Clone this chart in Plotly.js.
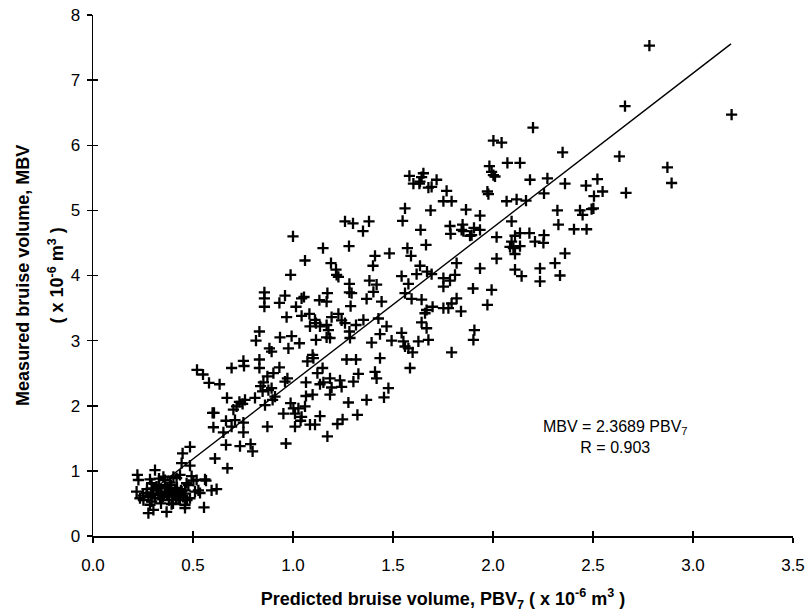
<!DOCTYPE html>
<html>
<head>
<meta charset="utf-8">
<script src="https://cdn.plot.ly/plotly-3.0.1.min.js"></script>
<style>html,body{margin:0;padding:0;background:#fff;}#chart{width:809px;height:613px;}</style>
</head>
<body>
<div id="chart"></div>
<script>
// Lower-left cluster
var pbvLow = [0.222,0.227,0.218,0.235,0.252,0.31,0.285,0.293,0.268,0.277,0.302,0.318,0.293,0.285,0.277,0.302,0.327,0.335,0.352,0.36,0.36,0.372,0.368,0.385,0.393,0.402,0.41,0.415,0.427,0.418,0.435,0.393,0.443,0.452,0.435,0.46,0.468,0.477,0.485,0.502,0.518,0.51,0.527,0.46,0.448,0.485,0.485,0.493,0.443,
  0.25,0.27,0.3,0.31,0.32,0.33,0.34,0.35,0.36,0.37,0.38,0.39,0.4,0.41,0.42,0.43,0.44,0.45,0.46,0.38,0.34,0.29,0.33,0.4,0.47];
var mbvLow = [0.94,0.86,0.68,0.58,0.55,1.01,0.87,0.81,0.66,0.6,0.73,0.76,0.53,0.48,0.35,0.4,0.63,0.58,0.91,0.86,0.68,0.73,0.37,0.82,0.67,0.91,0.71,0.59,0.56,0.89,0.94,0.49,0.68,0.65,0.56,0.48,0.81,0.78,0.58,0.85,0.86,0.68,0.7,0.43,1.27,1.37,1.08,0.92,1.12,
  0.62,0.72,0.65,0.58,0.7,0.78,0.66,0.6,0.75,0.64,0.55,0.78,0.62,0.66,0.74,0.62,0.7,0.6,0.7,0.68,0.5,0.62,0.88,0.5,0.55];

// Rising part 0.5 - 0.7
var pbvRise = [0.598,0.605,0.602,0.665,0.652,0.665,0.61,0.672,0.565,0.56,0.593,0.618,0.555,0.535,0.52,0.55,0.58,0.633,0.67];
var mbvRise = [1.89,1.89,1.67,1.77,1.59,1.4,1.19,1.04,0.85,0.87,0.7,0.72,0.44,0.66,2.55,2.48,2.35,2.33,2.12];

// Middle band, upper half
var pbvMidUp = [1.06,1.19,1.215,1.218,1.227,1.4,1.635,1.67,1.693,1.818,
  0.988,1.282,1.382,1.418,1.543,1.577,1.618,1.752,1.785,1.81,
  1.752,1.9,0.857,0.857,0.857,0.96,0.932,1.043,1.055,1.015,
  1.132,1.168,1.172,1.282,1.293,1.288,1.368,1.402,1.443,1.56,
  1.593,1.643,1.698,1.668,1.66,1.752,1.777,1.793,1.818,1.84,
  1.043,1.082,0.968,1.11,1.115,1.168,1.193,1.227,1.243,1.26,
  1.315,1.352,1.427,1.468,1.543,1.643,1.668,1.907,1.902,1.085,
  1.135,1.177,1.185,1.168,1.282,1.285,0.832,0.815,0.935,0.993,
  1.032,1.115,0.882,0.893,0.977,1.393,1.435,1.493,1.552,1.56,
  1.577,1.598,1.627,1.677,1.793];
var mbvMidUp = [4.23,4.19,4.09,4.01,3.98,4.15,4.15,4.06,4.02,4.19,
  4.01,3.87,3.92,3.86,3.99,3.87,4.02,3.96,3.92,4.01,
  3.83,3.8,3.74,3.65,3.52,3.69,3.58,3.65,3.67,3.52,
  3.62,3.6,3.73,3.74,3.73,3.53,3.64,3.75,3.6,3.73,
  3.64,3.63,3.52,3.47,3.42,3.5,3.5,3.57,3.65,3.45,
  3.38,3.41,3.36,3.32,3.27,3.24,3.36,3.41,3.31,3.27,
  3.24,3.32,3.34,3.22,3.12,3.28,3.19,3.16,3.01,3.22,
  3.22,3.16,3.04,3.05,3.14,3.04,3.14,3.0,3.05,3.07,
  2.96,3.01,2.88,2.83,2.88,2.97,3.1,3.0,2.99,2.91,
  2.88,2.82,2.99,3.01,2.82];

// Middle band, lower half
var pbvMidLow = [0.693,0.752,0.755,0.832,0.832,0.932,0.902,0.872,0.852,0.838,
  1.072,1.098,1.102,1.148,1.122,1.268,1.315,1.435,1.585,0.972,
  0.96,1.065,1.135,1.152,1.185,1.193,1.185,1.235,1.243,1.302,
  1.327,1.41,1.418,1.477,1.455,1.368,1.277,0.732,0.748,0.76,
  0.702,0.718,0.81,0.86,0.898,0.91,0.848,0.877,0.893,0.952,
  0.988,1.002,1.01,1.027,1.06,1.038,1.043,1.065,1.098,1.135,
  1.085,1.11,1.222,1.248,1.322,1.172,1.01,0.872,0.71,0.752,
  0.693,0.752,0.735,0.788,0.798,0.965];
var mbvMidLow = [2.58,2.69,2.61,2.71,2.58,2.59,2.5,2.45,2.36,2.3,
  2.68,2.78,2.73,2.58,2.5,2.71,2.71,2.73,2.58,2.42,
  2.37,2.36,2.33,2.36,2.42,2.28,2.17,2.39,2.29,2.37,
  2.49,2.52,2.42,2.27,2.13,2.09,2.05,2.06,2.03,2.09,
  1.94,1.99,2.12,2.01,2.09,2.14,2.22,2.24,2.27,1.88,
  2.04,1.96,1.88,1.96,1.99,1.77,1.83,2.15,2.17,1.84,
  1.71,1.71,1.72,1.79,1.86,1.53,1.68,1.68,1.78,1.74,
  1.68,1.59,1.38,1.41,1.3,1.42];

// Upper-right band
var pbvHigh = [2.002,2.043,2.2,2.348,2.072,2.135,1.982,1.993,2.002,2.01,
  1.582,1.652,1.643,1.635,1.602,1.632,1.677,1.693,1.718,1.768,
  1.752,1.793,1.56,1.688,1.548,1.865,1.972,1.977,2.185,2.272,
  2.36,2.068,2.118,2.165,2.255,1.935,2.093,1.638,1.785,1.788,
  1.848,1.843,1.852,1.885,1.893,1.905,1.935,2.018,2.11,2.135,
  2.182,2.093,2.085,2.102,2.135,2.11,2.21,2.252,2.255,2.322,
  2.327,2.405,2.468,2.435,2.448,2.493,2.502,2.505,2.548,2.465,
  2.522,2.632,2.665,2.36,2.31,2.335,2.235,2.235,2.11,2.143,
  2.018,1.935,1.993,1.972,1.665,1.572,1.59,1.482];
var mbvHigh = [6.07,6.04,6.27,5.89,5.73,5.73,5.68,5.59,5.54,5.52,
  5.53,5.57,5.51,5.44,5.41,5.41,5.35,5.36,5.47,5.3,
  5.14,5.14,5.03,5.0,4.84,5.01,5.29,5.25,5.47,5.49,
  5.41,5.14,5.17,5.15,5.26,4.92,4.83,4.7,4.76,4.64,
  4.78,4.7,4.68,4.61,4.62,4.73,4.7,4.59,4.61,4.65,
  4.65,4.52,4.44,4.42,4.45,4.33,4.52,4.5,4.62,5.0,
  4.78,4.71,4.71,5.0,4.93,5.02,5.03,5.22,5.29,5.38,
  5.48,5.83,5.27,4.34,4.19,4.0,4.11,3.91,4.09,3.99,
  4.26,4.11,3.78,3.55,4.47,4.42,4.3,4.34];

// Outliers and remaining points
var pbvOther = [2.782,2.66,3.193,2.872,2.893,1.0,1.15,1.26,1.3,1.38,1.35,1.28,1.41];
var mbvOther = [7.53,6.6,6.47,5.66,5.42,4.6,4.42,4.83,4.8,4.83,4.68,4.45,4.3];

// Regression line MBV = 2.3689 PBV7
var fitSlope = 2.3689;
var fitX = [0.25, 3.19];
var fitY = fitX.map(function(v){ return fitSlope * v; });

var xTickVals = [0,0.5,1,1.5,2,2.5,3,3.5];
var yTickVals = [0,1,2,3,4,5,6,7,8];

var yTitleLine1 = 'Measured bruise volume, MBV';
var yTitleLine2 = '( x 10<sup>-6</sup> m<sup>3</sup> )';
var xTitle = 'Predicted bruise volume, PBV<sub>7</sub> ( x 10<sup>-6</sup> m<sup>3</sup> )';

var pbv = [].concat(pbvLow, pbvRise, pbvMidUp, pbvMidLow, pbvHigh, pbvOther);
var mbv = [].concat(mbvLow, mbvRise, mbvMidUp, mbvMidLow, mbvHigh, mbvOther);

var font = 'Liberation Sans, Arial, sans-serif';

var traces = [
  {x: pbv, y: mbv, type: 'scatter', mode: 'markers', cliponaxis: false,
   marker: {symbol: 'cross-thin', size: 8, color: '#000', line: {color: '#000', width: 2.3}},
   hoverinfo: 'skip', showlegend: false},
  {x: fitX, y: fitY, type: 'scatter', mode: 'lines',
   line: {color: '#000', width: 1.4}, hoverinfo: 'skip', showlegend: false},
  {x: [], y: [], xaxis: 'x2', yaxis: 'y2', type: 'scatter', mode: 'markers', showlegend: false}
];

var layout = {
  width: 809, height: 613,
  margin: {l: 93, r: 16, t: 15, b: 77},
  paper_bgcolor: '#fff', plot_bgcolor: '#fff',
  font: {family: font, color: '#000', size: 17},
  showlegend: false,
  xaxis: {
    range: [0, 3.5], tickvals: xTickVals, tickformat: '.1f',
    ticks: 'outside', ticklen: 5, tickwidth: 1.5, tickcolor: '#000',
    showline: true, linecolor: '#000', linewidth: 1.5,
    showgrid: false, zeroline: false, ticklabelstandoff: 8,
    tickfont: {family: font, size: 17, color: '#000'},
    title: {text: '<b>' + xTitle + '</b>',
            font: {family: font, size: 18, color: '#000'}, standoff: 18}
  },
  yaxis: {
    range: [0, 8], tickvals: yTickVals,
    ticks: 'outside', ticklen: 5, tickwidth: 1.5, tickcolor: '#000',
    showline: true, linecolor: '#000', linewidth: 1.5,
    showgrid: false, zeroline: false, ticklabelstandoff: 3,
    tickfont: {family: font, size: 17, color: '#000'}
  },
  xaxis2: {overlaying: 'x', range: [0, 3.5], tickvals: xTickVals, ticks: 'inside', ticklen: 5, tickwidth: 1.5,
           tickcolor: '#000', showticklabels: false, showline: false, showgrid: false, zeroline: false, side: 'bottom'},
  yaxis2: {overlaying: 'y', range: [0, 8], tickvals: yTickVals, ticks: 'inside', ticklen: 5, tickwidth: 1.5,
           tickcolor: '#000', showticklabels: false, showline: false, showgrid: false, zeroline: false, side: 'left'},
  annotations: [
    {x: -0.118, y: 0.5, xref: 'paper', yref: 'paper', showarrow: false, textangle: -90,
     text: '<b>' + yTitleLine1 + '</b>', font: {family: font, size: 18, color: '#000'}},
    {x: -0.072, y: 0.5, xref: 'paper', yref: 'paper', showarrow: false, textangle: -90,
     text: '<b>' + yTitleLine2 + '</b>', font: {family: font, size: 18, color: '#000'}},
    {x: 2.61, y: 1.52, xref: 'x', yref: 'y', showarrow: false,
     text: 'MBV = 2.3689 PBV<sub>7</sub><br>R = 0.903',
     font: {family: font, size: 16, color: '#000'}, align: 'center'}
  ]
};

Plotly.newPlot('chart', traces, layout, {displayModeBar: false, staticPlot: true});
</script>
</body>
</html>
